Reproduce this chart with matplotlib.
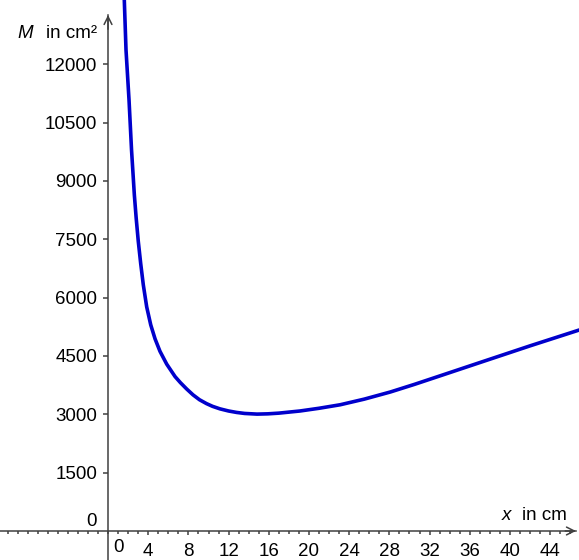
import matplotlib
matplotlib.use("Agg")
import matplotlib.pyplot as plt
from matplotlib.ticker import MultipleLocator

# values
x_cm = [1.62, 1.79, 2.09, 2.34, 2.62, 2.80, 3.01, 3.25, 3.51, 3.85, 4.25, 4.68,
        5.17, 5.84, 6.67, 7.2, 7.83, 8.46, 9.1, 9.8, 10.4, 11.14, 12.0, 12.8,
        13.6, 14.83, 15.9, 17.0, 19.1, 21.0, 23.1, 25.5, 28.1, 30.5, 33.0, 37.0,
        42.0, 46.9]
M_cm2 = [13650, 12367, 11081, 9795, 8640, 8050, 7450, 6880, 6330, 5760, 5300, 4940,
         4620, 4290, 3970, 3815, 3650, 3500, 3375, 3275, 3205, 3140, 3085, 3048,
         3022, 3005, 3012, 3030, 3085, 3155, 3245, 3390, 3574, 3770, 3985, 4330,
         4760, 5168]

x_ticks = [4, 8, 12, 16, 20, 24, 28, 32, 36, 40, 44]
y_ticks = [1500, 3000, 4500, 6000, 7500, 9000, 10500, 12000]

W, H = 579, 560
plt.rcParams['font.family'] = ['Liberation Sans', 'DejaVu Sans']
fig = plt.figure(figsize=(W / 100, H / 100), dpi=100)
ax = fig.add_axes([0, 0, 1, 1])

axis_col = '#404040'
fs = 13.5
ax.set_xlim(-10.75, 46.87)
ax.set_ylim(-746, 13652)

for s in ['top', 'right']:
    ax.spines[s].set_visible(False)
ax.spines['left'].set_position(('data', 0))
ax.spines['bottom'].set_position(('data', 0))
ax.spines['left'].set_bounds(-746, 13267)
ax.spines['bottom'].set_bounds(-10.75, 46.57)
for s in ['left', 'bottom']:
    ax.spines[s].set_color(axis_col)
    ax.spines[s].set_linewidth(1.1)

# arrow heads
ax.annotate('', xy=(0, 13267), xytext=(0, 12900),
            arrowprops=dict(arrowstyle='->', color=axis_col, lw=1.1,
                            mutation_scale=14, shrinkA=0, shrinkB=0))
ax.annotate('', xy=(46.57, 0), xytext=(45.5, 0),
            arrowprops=dict(arrowstyle='->', color=axis_col, lw=1.1,
                            mutation_scale=14, shrinkA=0, shrinkB=0))

ax.set_xticks(x_ticks)
ax.set_xticklabels([str(t) for t in x_ticks])
ax.xaxis.set_minor_locator(MultipleLocator(1))
ax.set_yticks(y_ticks)
ax.set_yticklabels([str(t) for t in y_ticks])

ax.tick_params(axis='x', which='major', direction='out', length=3, width=1.1,
               color=axis_col, pad=5.5, labelsize=fs)
ax.tick_params(axis='x', which='minor', direction='out', length=2, width=1.1,
               color=axis_col)
ax.tick_params(axis='y', which='major', direction='out', length=3.6, width=1.1,
               color=axis_col, pad=4.3, labelsize=fs)

ax.plot(x_cm, M_cm2, color='#0000cc', lw=2.6, solid_capstyle='round',
        solid_joinstyle='round', clip_on=True)

# labels placed in pixel positions
def px(x, y):
    return x / W, 1 - y / H

fig.text(*px(118, 548), '0', fontsize=fs, ha='center', va='center')
fig.text(*px(97, 522), '0', fontsize=fs, ha='right', va='center')
fig.text(*px(33, 33), 'M', fontsize=fs, style='italic', ha='right', va='center')
fig.text(*px(97, 33), 'in cm²', fontsize=fs, ha='right', va='center')
fig.text(*px(511, 516), 'x', fontsize=fs, style='italic', ha='right', va='center')
fig.text(*px(567, 516), 'in cm', fontsize=fs, ha='right', va='center')

fig.savefig('out.png', dpi=100)
